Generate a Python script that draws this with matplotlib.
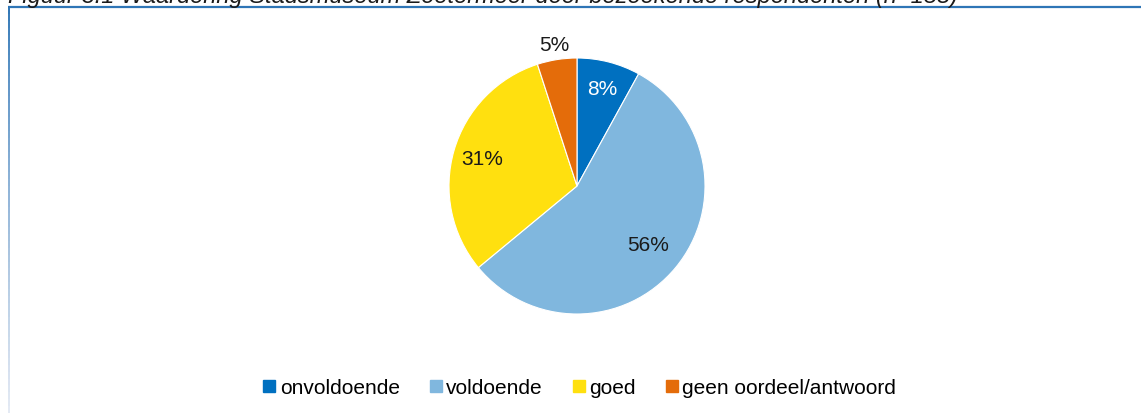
import matplotlib
matplotlib.use("Agg")
import matplotlib.pyplot as plt
import numpy as np
from matplotlib.lines import Line2D
from matplotlib.collections import LineCollection

plt.rcParams['font.family'] = ['Liberation Sans', 'DejaVu Sans']

categories = ["onvoldoende", "voldoende", "goed", "geen oordeel/antwoord"]
values = [8, 56, 31, 5]
colors = ["#0070C0", "#80B7DE", "#FFE00F", "#E46C0A"]
label_colors = ["white", "#1a1a1a", "#1a1a1a", "#1a1a1a"]
label_dist = [0.79, 0.72, 0.77, 1.12]
title = "Figuur 3.1 Waardering Stadsmuseum Zoetermeer door bezoekende respondenten (n=158)"

W, H = 1141, 414
fig = plt.figure(figsize=(W / 100, H / 100), dpi=100)

# frame lines
frame = fig.add_axes([0, 0, 1, 1])
frame.set_xlim(0, W)
frame.set_ylim(H, 0)
frame.axis("off")
frame.plot([8, W], [8, 8], color="#2E75B6", lw=1.6, solid_capstyle="butt")
ys = np.linspace(8, H, 60)
segs = [[(9, ys[i]), (9, ys[i + 1])] for i in range(len(ys) - 1)]
c0 = np.array(matplotlib.colors.to_rgb("#2E75B6"))
c1 = np.array(matplotlib.colors.to_rgb("#E4EAF4"))
t = np.linspace(0, 1, len(segs)) ** 0.8
cols = [tuple(c0 * (1 - a) + c1 * a) for a in t]
frame.add_collection(LineCollection(segs, colors=cols, linewidths=1.4))

# title (clipped at top, as in the reference)
fig.text(8 / W, 1 - 3 / H, title, fontsize=17, style="italic", ha="left",
         va="baseline", color="#1a1a1a")

# pie
cx, cy, R = 577, 187, 128
ax = fig.add_axes([(cx - R) / W, 1 - (cy + R) / H, 2 * R / W, 2 * R / H])
wedges, _ = ax.pie(values, colors=colors, startangle=90, counterclock=False,
                   radius=1, wedgeprops=dict(linewidth=0.8, edgecolor="white"))
ax.set_xlim(-1, 1)
ax.set_ylim(-1, 1)
ax.set_aspect("equal")
for w, v, d, lc in zip(wedges, values, label_dist, label_colors):
    ang = np.deg2rad((w.theta1 + w.theta2) / 2)
    ax.text(d * np.cos(ang), d * np.sin(ang), f"{v}%", ha="center", va="center",
            fontsize=15, color=lc, clip_on=False)

handles = [Line2D([], [], marker="s", linestyle="none", markersize=8,
                  markerfacecolor=c, markeredgecolor=c) for c in colors]
fig.legend(handles, categories, loc="center", bbox_to_anchor=(0.5083, 1 - 389 / H),
           ncol=4, frameon=False, fontsize=15, handlelength=0.53,
           handletextpad=0.25, columnspacing=1.45, borderaxespad=0)

fig.savefig("out.png", dpi=100)
